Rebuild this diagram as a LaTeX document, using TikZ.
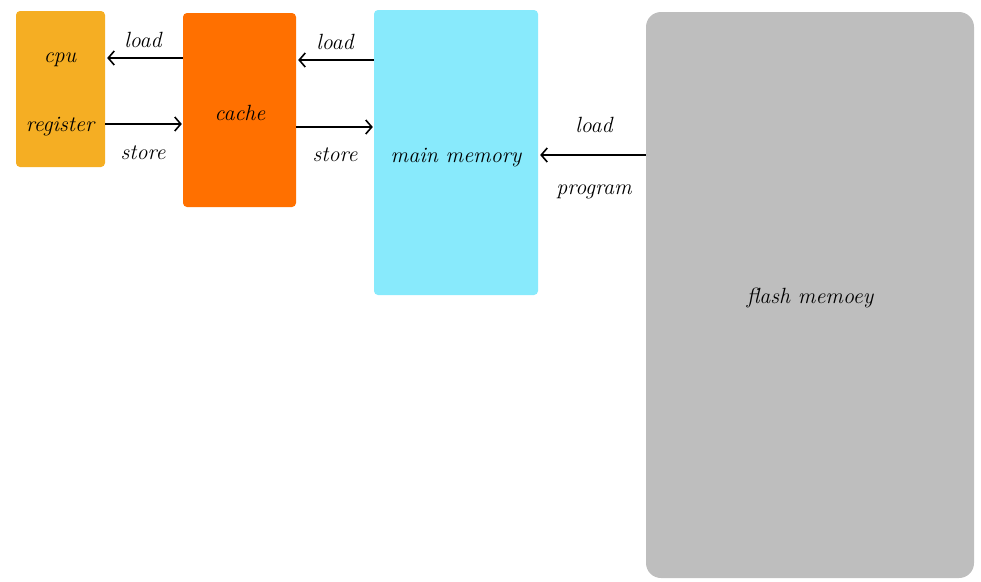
\documentclass[tikz,border=0pt]{standalone}
\usetikzlibrary{arrows.meta}
\begin{document}
\begin{tikzpicture}[x=1pt,y=-1pt,
  blk/.style={inner sep=0pt,rounded corners=4pt},
  txt/.style={inner sep=0pt,font=\fontsize{22}{26}\selectfont\itshape},
  conn/.style={line width=2pt,-{Straight Barb[length=6pt,width=14pt,line width=1.6pt]}}]
\useasboundingbox (0,0) rectangle (981,581);
\definecolor{cpuc}{RGB}{245,174,35}
\definecolor{cachec}{RGB}{255,112,0}
\definecolor{mainc}{RGB}{136,234,252}
\definecolor{flashc}{RGB}{190,190,190}
\node[blk,fill=cpuc,minimum width=89pt,minimum height=156pt] (cpu) at (60.5,89) {};
\node[blk,fill=cachec,minimum width=113pt,minimum height=194pt] (cache) at (239.5,110) {};
\node[blk,fill=mainc,minimum width=164pt,minimum height=285pt] (main) at (456,152.5) {};
\node[blk,fill=flashc,rounded corners=15pt,minimum width=328pt,minimum height=566pt] (flash) at (810,295) {};
\node[txt] (cpuT) at (60,60) {cpu};
\node[txt] (regT) at (60,127) {register};
\node[txt] (cacheT) at (240,113) {cache};
\node[txt] (mainT) at (456,158) {main memory};
\node[txt] (flashT) at (810,298) {flash memoey};
\coordinate (r1) at (0,58);
\coordinate (r2) at (0,124);
\coordinate (r3) at (0,60);
\coordinate (r4) at (0,127);
\coordinate (r5) at (0,155);
\draw[conn] (cache.west |- r1) -- ([xshift=2pt]cpu.east |- r1);
\draw[conn] (cpu.east |- r2) -- ([xshift=-1pt]cache.west |- r2);
\draw[conn] (main.west |- r3) -- ([xshift=2pt]cache.east |- r3);
\draw[conn] (cache.east |- r4) -- ([xshift=-1pt]main.west |- r4);
\draw[conn] (flash.west |- r5) -- ([xshift=2pt]main.east |- r5);
\node[txt] (l1) at (143,40) {load};
\node[txt] (s1) at (143,153) {store};
\node[txt] (l2) at (335,42) {load};
\node[txt] (s2) at (335,155) {store};
\node[txt] (l3) at (594,125) {load};
\node[txt] (p3) at (594,192) {program};
\end{tikzpicture}
\end{document}
